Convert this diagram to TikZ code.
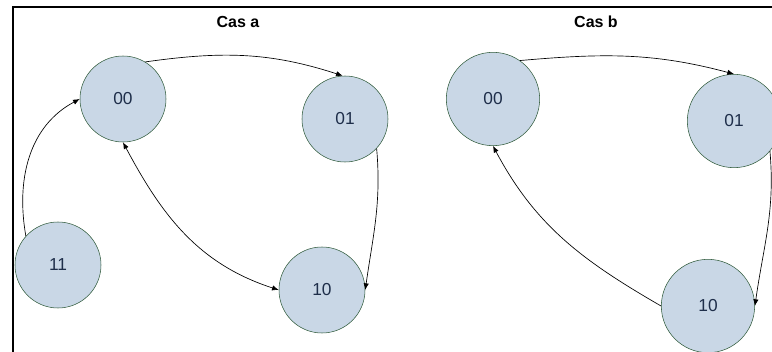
\documentclass[tikz,border=0pt]{standalone}
\usepackage{fontspec}
\setmainfont{Liberation Sans}
\usetikzlibrary{arrows.meta}
\definecolor{statefill}{HTML}{C9D7E6}
\definecolor{stateline}{HTML}{2F5A3A}
\definecolor{statetext}{HTML}{1E2E4A}
\begin{document}
\begin{tikzpicture}[x=0.75pt,y=-0.75pt,
    state/.style={draw=stateline,fill=statefill,circle,text=statetext,
        font=\fontsize{13}{15}\selectfont,inner sep=0pt},
    statea/.style={state,minimum size=64.5pt},
    stateb/.style={state,minimum size=70pt},
    title/.style={font=\fontsize{12}{14}\selectfont\bfseries},
    trans/.style={-{Latex[length=5pt,width=4pt]},line width=0.5pt}]
        \useasboundingbox (0,0) rectangle (772,352);

        % frame
        \draw [line width=2pt] (13,352) -- (13,7) -- (772,7);

        % titles
        \node [title] (ta) at (238,22) {Cas a};
        \node [title] (tb) at (596,22) {Cas b};

        % nodes
        % Cas a
        \node [statea] (a00) at (123,99) {00};
        \node [statea] (a01) at (345,119) {01};
        \node [statea] (a11) at (58,265) {11};
        \node [statea] (a10) at (322,290) {10};

        % Cas b
        \node [stateb] (b00) at (493,99) {00};
        \node [stateb] (b01) at (734,121) {01};
        \node [stateb] (b10) at (708,306) {10};

        % arrows
        % Cas a
        \draw [trans] (a00.59) to [out=8, in=162] (a01.93);
        \draw [trans] (a11.138) to [out=100, in=208] (a00.180);
        \draw [trans,{Latex[length=5pt,width=4pt]}-{Latex[length=5pt,width=4pt]}] (a00.270) to [out=-62, in=162] (a10.180);
        \draw [trans] (a01.-43) to [out=-85, in=82] (a10.0);

        % Cas b
        \draw [trans] (b00.55) to [out=5, in=165] (b01.90);
        \draw [trans] (b10.180) to [out=150, in=-62] (b00.270);
        \draw [trans] (b01.-40) to [out=-85, in=82] (b10.0);
    \end{tikzpicture}
\end{document}
